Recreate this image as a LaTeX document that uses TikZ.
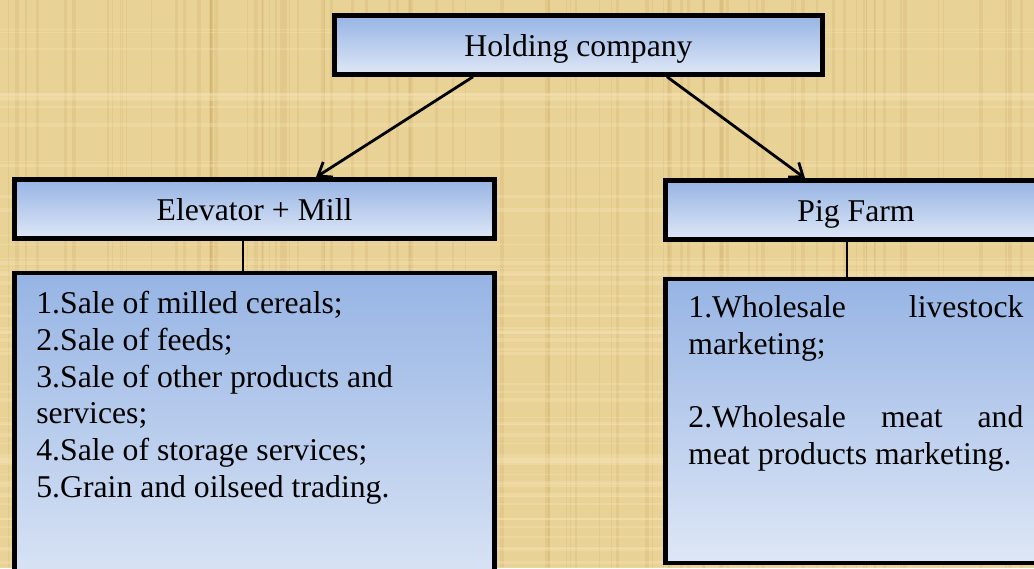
\documentclass[tikz,border=0pt]{standalone}
\usepackage{fontspec}
\setmainfont{Liberation Serif}
\usetikzlibrary{arrows.meta}
\definecolor{papyrus}{RGB}{233,210,150}
\definecolor{papyrusdark}{RGB}{196,158,88}
\definecolor{papyruslight}{RGB}{246,228,182}
\definecolor{boxtop}{RGB}{150,180,228}
\definecolor{boxbot}{RGB}{222,231,246}

\begin{document}
\begin{tikzpicture}[x=0.5pt, y=-0.5pt,
  box/.style={draw, line width=2.3pt, top color=boxtop, bottom color=boxbot, inner sep=0pt, font=\fontsize{15.85}{18.35}\selectfont},
  headbox/.style={box, minimum height=29.5pt, text height=11.5pt, text depth=0.5pt},
  listtext/.style={inner sep=0pt, anchor=north west, font=\fontsize{15.85}{18.35}\selectfont},
  link/.style={line width=1.3pt},
  arrow/.style={line width=1.4pt, -{Straight Barb[length=6pt,width=9pt]}}]
% papyrus background
\useasboundingbox (0,0) rectangle (1034,568);
\fill[papyrus] (0,0) rectangle (1034,568);
\clip (0,0) rectangle (1034,568);
\pgfmathsetseed{17}
\foreach \i in {1,...,90} {
  \pgfmathsetmacro\xx{rnd*1034}
  \pgfmathsetmacro\ww{0.4+rnd*1.6}
  \draw[papyrusdark, opacity=0.18, line width=\ww pt] (\xx,0) -- (\xx,568);
}
\foreach \i in {1,...,60} {
  \pgfmathsetmacro\yy{rnd*568}
  \pgfmathsetmacro\ww{0.4+rnd*1.6}
  \draw[papyruslight, opacity=0.35, line width=\ww pt] (0,\yy) -- (1034,\yy);
}

% boxes
\node[headbox, minimum width=244pt] (hold) at (578.5,45) {Holding company};
\node[headbox, minimum width=240pt] (elev) at (254.5,209) {Elevator + Mill};
\node[headbox, minimum width=190.5pt] (pig) at (856,210) {Pig Farm};
\node[box, minimum width=240pt, minimum height=165pt, anchor=north] (elevlist) at (254.5,270.5) {};
\node[box, minimum width=190.5pt, minimum height=142pt, anchor=north] (piglist) at (856,276.5) {};

% lists
\node[listtext, align=left] (elevtext) at (36,291) {1.Sale of milled cereals;\\ 2.Sale of feeds;\\ 3.Sale of other products and\\ services;\\ 4.Sale of storage services;\\ 5.Grain and oilseed trading.};
\node[listtext, text width=167.5pt, align=justify] (pigtext) at (688,295) {1.Wholesale\hfill livestock\\ marketing;\\[18.35pt] 2.Wholesale\hfill meat\hfill and\\ meat products marketing.};

% connectors
\draw[arrow] ([xshift=-52.75pt]hold.south) -- ([xshift=30.75pt]elev.north);
\draw[arrow] ([xshift=44.25pt]hold.south) -- ([xshift=-25.5pt]pig.north);
\draw[link] ([xshift=-5.75pt]elev.south) -- ([xshift=-5.75pt]elevlist.north);
\draw[link] ([xshift=-4.5pt]pig.south) -- ([xshift=-4.5pt]piglist.north);
\end{tikzpicture}
\end{document}
